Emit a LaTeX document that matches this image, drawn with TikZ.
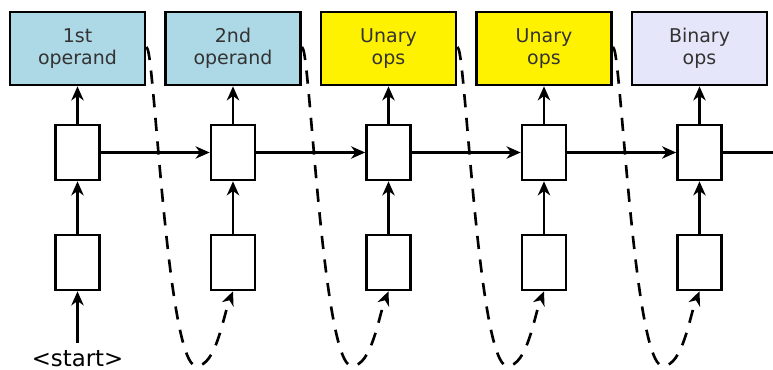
\documentclass[tikz,border=0pt]{standalone}
\usepackage{fontspec}
\setmainfont{DejaVu Sans}
\usetikzlibrary{positioning}
\usetikzlibrary{arrows.meta}

\begin{document}
\begin{tikzpicture}[
    >={Stealth[length=8pt,width=7pt,inset=2.5pt]},
    line width=1.5pt,
    opbox/.style={draw, rectangle, align=center, minimum width=2.7cm, minimum height=1.46cm, text=black!80, font=\fontsize{10.8}{12.8}\selectfont},
    cell/.style={draw, rectangle, fill=white, minimum width=0.88cm, minimum height=1.1cm},
    feedback/.style={dash pattern=on 7.5pt off 6pt}
  ]
  \useasboundingbox (0,0) rectangle (15.46,7.4);

  % output boxes
  \node[opbox, fill={rgb,255:red,173;green,216;blue,230}] (op1) at (1.55,6.43) {1st\\operand};
  \node[opbox, fill={rgb,255:red,173;green,216;blue,230}] (op2) at (4.66,6.43) {2nd\\operand};
  \node[opbox, fill=yellow] (op3) at (7.77,6.43) {Unary\\ops};
  \node[opbox, fill=yellow] (op4) at (10.88,6.43) {Unary\\ops};
  \node[opbox, fill={rgb,255:red,230;green,230;blue,250}] (op5) at (13.99,6.43) {Binary\\ops};

  % recurrent cells and inputs
  \foreach \i/\x in {1/1.55, 2/4.66, 3/7.77, 4/10.88, 5/13.99} {
    \node[cell] (h\i) at (\x,4.35) {};
    \node[cell] (in\i) at (\x,2.15) {};
    \draw[->] (in\i) -- (h\i);
    \draw[->] (h\i) -- (op\i);
  }

  \node[font=\fontsize{13}{15}\selectfont] (start) at (1.55,0.23) {<start>};
  \draw[->] (start) -- (in1);

  \draw[->] (h1) -- (h2);
  \draw[->] (h2) -- (h3);
  \draw[->] (h3) -- (h4);
  \draw[->] (h4) -- (h5);
  \coordinate (hout) at (15.46,4.35);
  \draw (h5) -- (hout);

  % output fed back as next input
  \foreach \i/\j in {1/2, 2/3, 3/4, 4/5} {
    \draw[feedback, ->] (op\i.east) .. controls +(0.15,0.3) and +(-0.6,0) .. ([xshift=1cm]op\i.east |- 0,0.08)
      .. controls +(0.4,0) and +(-0.2,-0.5) .. (in\j.south);
  }
\end{tikzpicture}
\end{document}
